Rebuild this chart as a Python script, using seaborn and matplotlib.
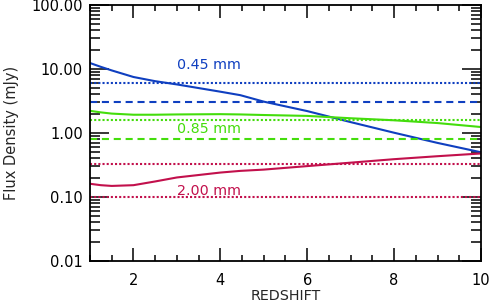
import numpy as np
import pandas as pd
import matplotlib
matplotlib.use("Agg")
import matplotlib.pyplot as plt
import matplotlib.ticker as mticker
import seaborn as sns

# valeurs
redshift = [1.0, 1.25, 1.5, 2.0, 2.5, 3.0, 4.0, 4.46, 5.0, 6.0, 7.0, 8.0, 9.0, 10.0]
flux_045 = [12.4, 10.8, 9.5, 7.5, 6.45, 5.74, 4.42, 3.9, 3.09, 2.2, 1.48, 1.01, 0.70, 0.50]
flux_085 = [2.22, 2.10, 2.01, 1.93, 1.93, 1.95, 1.97, 1.95, 1.91, 1.85, 1.70, 1.58, 1.43, 1.24]
flux_200 = [0.161, 0.153, 0.149, 0.153, 0.175, 0.202, 0.241, 0.256, 0.268, 0.304, 0.344, 0.390, 0.434, 0.479]

bands = ["0.45 mm", "0.85 mm", "2.00 mm"]
band_colors = ["#0f3fc0", "#44dd0c", "#c2104c"]
dotted_levels = [6.12, 1.60, 0.329]
dashed_levels = [3.08, 0.82, None]
extra_dotted = [None, None, 0.10]
label_x = [3.0, 3.0, 3.0]
label_y = [11.7, 1.16, 0.126]

df = pd.DataFrame({
    "z": redshift * 3,
    "flux": flux_045 + flux_085 + flux_200,
    "band": [bands[0]] * len(redshift) + [bands[1]] * len(redshift) + [bands[2]] * len(redshift),
})

sns.set_style("ticks")
plt.rcParams["font.family"] = ["DejaVu Sans"]

fig = plt.figure(figsize=(4.91, 3.06), dpi=100)
ax = fig.add_axes([0.1833, 0.147, 0.7963, 0.8367])

sns.lineplot(data=df, x="z", y="flux", hue="band", palette=band_colors,
             linewidth=1.5, legend=False, ax=ax)

for i, b in enumerate(bands):
    c = band_colors[i]
    ax.axhline(dotted_levels[i], color=c, lw=1.5, ls=(0, (1, 1)))
    if dashed_levels[i] is not None:
        ax.axhline(dashed_levels[i], color=c, lw=1.5, ls=(0, (3.4, 2.3)))
    if extra_dotted[i] is not None:
        ax.axhline(extra_dotted[i], color=c, lw=1.5, ls=(0, (1, 1)))
    ax.text(label_x[i], label_y[i], b, color=c, fontsize=10.3, va="center", ha="left")

ax.set_yscale("log")
ax.set_xlim(1, 10)
ax.set_ylim(0.01, 100)

ax.xaxis.set_major_locator(mticker.MultipleLocator(2))
ax.xaxis.set_minor_locator(mticker.MultipleLocator(0.5))
ax.yaxis.set_major_locator(mticker.LogLocator(base=10))
ax.yaxis.set_minor_locator(mticker.LogLocator(base=10, subs=np.arange(2, 10)))
ax.yaxis.set_major_formatter(mticker.FormatStrFormatter("%.2f"))
ax.yaxis.set_minor_formatter(mticker.NullFormatter())

ax.tick_params(which="both", direction="in", top=True, right=True,
               colors="black", labelsize=10.5, width=1.1)
ax.tick_params(axis="x", which="major", length=9.5, pad=8.5)
ax.tick_params(axis="x", which="minor", length=4.3)
ax.tick_params(axis="y", which="major", length=14, pad=5)
ax.tick_params(axis="y", which="minor", length=7)

for s in ax.spines.values():
    s.set_linewidth(1.3)
    s.set_color("black")

ax.set_xlabel("REDSHIFT", fontsize=10.3, labelpad=0.5)
ax.set_ylabel("Flux Density (mJy)", fontsize=10.5, labelpad=9)

fig.savefig("out.png", dpi=100)
plt.close(fig)
